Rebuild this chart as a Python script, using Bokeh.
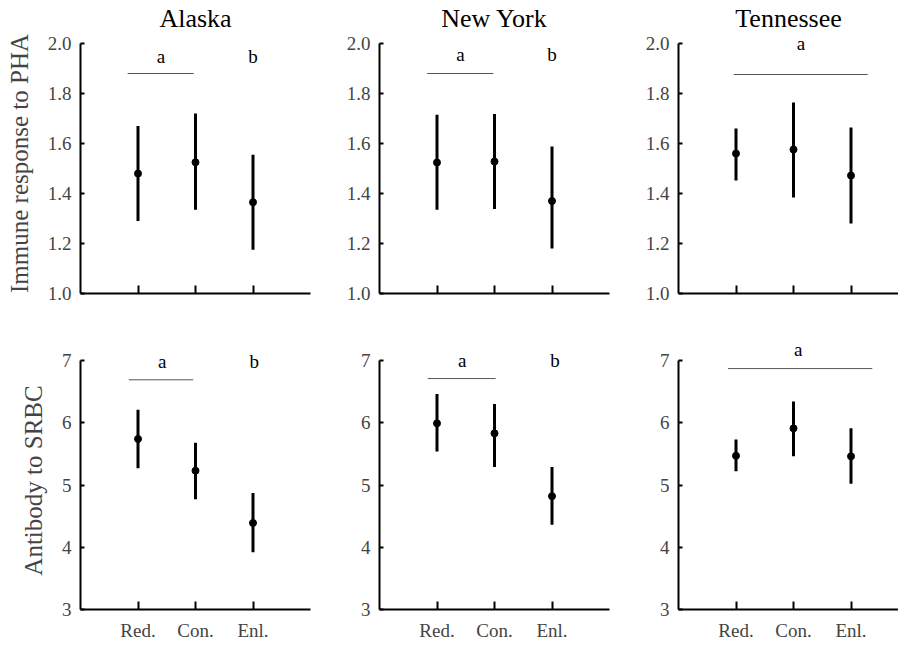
from bokeh.plotting import figure
from bokeh.layouts import column, row
from bokeh.models import Range1d, FixedTicker, PrintfTickFormatter, Label
from bokeh.core.properties import value
from bokeh.embed import file_html
from bokeh.resources import INLINE

FONT_NAME = "Liberation Serif"
FONT = value(FONT_NAME)

sites = ["Alaska", "New York", "Tennessee"]
treatments = ["Red.", "Con.", "Enl."]

# Immune response to PHA (mean, lower, upper)
pha_alaska_mean = [1.48, 1.525, 1.365]
pha_alaska_low = [1.29, 1.335, 1.175]
pha_alaska_high = [1.67, 1.72, 1.555]
pha_newyork_mean = [1.524, 1.528, 1.37]
pha_newyork_low = [1.335, 1.338, 1.18]
pha_newyork_high = [1.715, 1.718, 1.588]
pha_tennessee_mean = [1.56, 1.576, 1.472]
pha_tennessee_low = [1.452, 1.384, 1.28]
pha_tennessee_high = [1.66, 1.764, 1.664]

# Antibody to SRBC (mean, lower, upper)
srbc_alaska_mean = [5.74, 5.23, 4.39]
srbc_alaska_low = [5.27, 4.77, 3.92]
srbc_alaska_high = [6.21, 5.68, 4.87]
srbc_newyork_mean = [5.99, 5.83, 4.82]
srbc_newyork_low = [5.54, 5.29, 4.36]
srbc_newyork_high = [6.46, 6.30, 5.29]
srbc_tennessee_mean = [5.47, 5.91, 5.46]
srbc_tennessee_low = [5.22, 5.46, 5.02]
srbc_tennessee_high = [5.73, 6.34, 5.91]

pha_ticks = [1.0, 1.2, 1.4, 1.6, 1.8, 2.0]
srbc_ticks = [3, 4, 5, 6, 7]

# significance letters per panel
pha_letters = [["a", "b"], ["a", "b"], ["a"]]
srbc_letters = [["a", "b"], ["a", "b"], ["a"]]

# layout / annotation placement (styling, not data)
sig_style_pha = [
    dict(lx=(0.82, 1.97), ly=1.88, tx=[1.40, 3.0], ty=1.95),
    dict(lx=(0.83, 1.98), ly=1.88, tx=[1.41, 3.0], ty=1.955),
    dict(lx=(0.96, 3.29), ly=1.876, tx=[2.13], ty=2.0),
]
sig_style_srbc = [
    dict(lx=(0.84, 1.96), ly=6.69, tx=[1.42, 3.02], ty=6.98),
    dict(lx=(0.84, 2.02), ly=6.71, tx=[1.44, 3.05], ty=7.0),
    dict(lx=(0.86, 3.37), ly=6.87, tx=[2.08], ty=7.17),
]

pha_data = [
    (pha_alaska_mean, pha_alaska_low, pha_alaska_high),
    (pha_newyork_mean, pha_newyork_low, pha_newyork_high),
    (pha_tennessee_mean, pha_tennessee_low, pha_tennessee_high),
]
srbc_data = [
    (srbc_alaska_mean, srbc_alaska_low, srbc_alaska_high),
    (srbc_newyork_mean, srbc_newyork_low, srbc_newyork_high),
    (srbc_tennessee_mean, srbc_tennessee_low, srbc_tennessee_high),
]

widths = [320, 299, 279]
lefts = [80, 59, 59]
rights = [10, 10, 0]
UNIT = 57.5
TOP_UNIT = 250.0      # px per unit, top row
BOT_UNIT = 62.25      # px per unit, bottom row
bottom_tops = [21, 19, 8]   # frame-top border for bottom-row panels


def make_panel(i, top_row):
    w = widths[i]
    frame_w = w - lefts[i] - rights[i]
    xend = frame_w / UNIT
    if top_row:
        h, mt, mb = 330, 33, 37
        yr = Range1d(1.0, 2.0 + (43 - mt) / TOP_UNIT)
        ticks, fmt, bounds = pha_ticks, "%.1f", (1.0, 2.0)
        mean, low, high = pha_data[i]
        style, letters = sig_style_pha[i], pha_letters[i]
        ylabel = "Immune response to PHA"
    else:
        mt = bottom_tops[i]
        h, mb = 315, 36
        yr = Range1d(3.0, 7.0 + (30 - mt) / BOT_UNIT)
        ticks, fmt, bounds = srbc_ticks, "%d", (3, 7)
        mean, low, high = srbc_data[i]
        style, letters = sig_style_srbc[i], srbc_letters[i]
        ylabel = "Antibody to SRBC"

    p = figure(width=w, height=h, x_range=Range1d(0, xend), y_range=yr,
               output_backend="svg", toolbar_location=None,
               min_border_left=lefts[i], min_border_right=rights[i],
               min_border_top=mt, min_border_bottom=mb,
               frame_align=False,
               title=sites[i] if top_row else None)
    p.outline_line_color = None
    p.xgrid.visible = False
    p.ygrid.visible = False
    p.background_fill_color = "white"
    p.border_fill_color = "white"
    if top_row:
        p.title.align = "center"
        p.title.text_font = FONT_NAME
        p.title.text_font_size = "26px"
        p.title.text_font_style = "normal"
        p.title.text_color = "black"
        p.title.standoff = 2
        p.title.offset = 0

    xs = [k + 1 for k in range(len(treatments))]

    # axes
    ya = p.yaxis[0]
    ya.ticker = FixedTicker(ticks=ticks)
    ya.formatter = PrintfTickFormatter(format=fmt)
    ya.bounds = bounds
    ya.axis_line_width = 2
    ya.major_tick_line_width = 2
    ya.major_tick_in = 4
    ya.major_tick_out = 0
    ya.minor_tick_line_color = None
    ya.major_label_text_font = FONT_NAME
    ya.major_label_text_font_size = "19px"
    ya.major_label_standoff = 9
    if i == 0:
        ya.axis_label = ylabel
        ya.axis_label_text_font = FONT_NAME
        ya.axis_label_text_font_size = "25px"
        ya.axis_label_text_font_style = "normal"
        ya.axis_label_standoff = 12

    xa = p.xaxis[0]
    xa.ticker = FixedTicker(ticks=xs)
    xa.axis_line_width = 2
    xa.major_tick_line_width = 2
    xa.major_tick_in = 8
    xa.major_tick_out = 0
    xa.minor_tick_line_color = None
    xa.major_label_text_font = FONT_NAME
    xa.major_label_text_font_size = "19px"
    if top_row:
        xa.major_label_overrides = {x: "" for x in xs}
    else:
        xa.major_label_overrides = {x: t for x, t in zip(xs, treatments)}
        xa.major_label_standoff = 10

    # error bars and means
    p.segment(x0=xs, y0=low, x1=xs, y1=high, line_width=3, line_color="black")
    p.scatter(x=xs, y=mean, size=7, fill_color="black", line_color="black")

    # significance line & letters
    p.segment(x0=[style["lx"][0]], y0=[style["ly"]], x1=[style["lx"][1]],
              y1=[style["ly"]], line_width=1, line_color="#555555")
    for tx, letter in zip(style["tx"], letters):
        p.add_layout(Label(x=tx, y=style["ty"], text=letter,
                           text_font=FONT_NAME, text_font_size="19px",
                           text_align="center", text_baseline="middle",
                           text_color="black"))
    return p


top = [make_panel(i, True) for i in range(3)]
bottom = [make_panel(i, False) for i in range(3)]
layout = column(row(*top), row(*bottom))

open("out.html", "w").write(file_html(layout, INLINE))
